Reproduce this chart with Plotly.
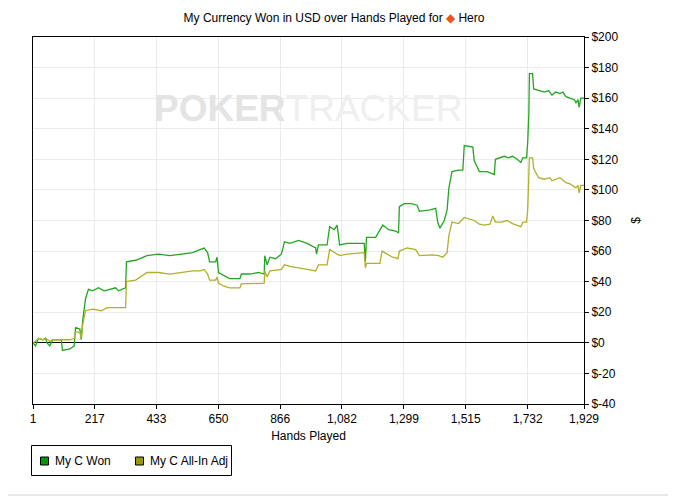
import plotly.graph_objects as go

# hands and cumulative $ for the two series
won_hands = [1, 10, 20, 35, 45, 50, 60, 70, 100, 104, 130, 145, 150, 165, 170, 175, 185, 195,
             210, 230, 250, 275, 290, 300, 325, 328, 360, 400, 440, 480, 520, 560, 585, 600,
             612, 619, 640, 645, 650, 670, 689, 725, 730, 760, 790, 810, 812, 820, 830, 850,
             870, 881, 900, 930, 960, 990, 993, 1000, 1030, 1039, 1055, 1065, 1074, 1100, 1160,
             1164, 1168, 1200, 1210, 1225, 1245, 1270, 1280, 1283, 1300, 1325, 1345, 1353, 1390,
             1410, 1417, 1425, 1440, 1450, 1456, 1467, 1490, 1505, 1510, 1530, 1540, 1545, 1563,
             1590, 1605, 1615, 1619, 1650, 1665, 1679, 1695, 1708, 1715, 1728, 1732, 1736, 1738,
             1749, 1753, 1770, 1790, 1805, 1817, 1830, 1845, 1855, 1866, 1880, 1895, 1901, 1908,
             1912, 1918, 1929]
won_usd = [0, -2, 3, 2, 3, 0, -2, 2, 2, -5, -4, -2, 10, 9, 2, 15, 29, 35,
           34, 36, 34, 35, 36, 34, 36, 53, 54, 57, 58, 57, 58, 59, 61, 62,
           59, 53, 53, 56, 46, 44, 42, 42, 45, 45, 46, 45, 57, 51, 56, 55,
           58, 66, 65, 67, 65, 62, 58, 64, 64, 76, 74, 77, 64, 65, 65,
           53, 69, 69, 72, 77, 74, 73, 72, 89, 91, 91, 90, 86, 87,
           88, 79, 75, 80, 87, 101, 112, 113, 113, 129, 128, 128, 119, 112,
           112, 111, 110, 120, 122, 121, 122, 120, 118, 121, 121, 131, 150, 176,
           176, 166, 165, 164, 165, 162, 164, 163, 164, 161, 160, 159, 157, 159,
           154, 160, 160]

adj_hands = [1, 10, 20, 35, 45, 60, 70, 100, 130, 145, 150, 165, 170, 175, 185, 210, 240,
             260, 300, 325, 328, 360, 400, 440, 480, 520, 560, 585, 600, 612, 619, 640, 645,
             650, 670, 689, 725, 730, 810, 812, 820, 830, 870, 881, 900, 960, 990, 1000, 1030,
             1039, 1074, 1100, 1160, 1164, 1168, 1215, 1222, 1240, 1260, 1278, 1283, 1310, 1340,
             1353, 1400, 1420, 1435, 1450, 1456, 1467, 1490, 1510, 1525, 1545, 1563, 1580, 1600,
             1610, 1619, 1640, 1660, 1679, 1708, 1715, 1728, 1732, 1738, 1749, 1753, 1770, 1790,
             1810, 1817, 1830, 1845, 1866, 1880, 1895, 1901, 1908, 1912, 1918, 1929]
adj_usd = [0, 1, 3, 2, 3, 1, 2, 2, 2, 3, 7, 7, 3, 12, 21, 22, 21,
           23, 23, 23, 40, 41, 46, 46, 45, 46, 47, 47, 48, 45, 41, 41, 43,
           39, 37, 36, 36, 38.5, 39, 47, 43, 47, 48, 51, 50, 48, 47, 51, 51,
           61, 57, 58, 59, 49, 52, 52, 60, 58, 56, 55, 60, 62, 61,
           57, 57.5, 57, 56, 59, 70, 79, 78, 82, 81, 80, 77.6, 77, 77.6,
           83, 79, 79, 80, 78, 76, 79, 79, 87, 121, 121, 114, 108, 107,
           108, 106, 107, 108, 104.7, 104, 102, 101.5, 103, 98, 103, 103]

hand_ticks = [1, 217, 433, 650, 866, 1082, 1299, 1515, 1732, 1929]
usd_ticks = [-40, -20, 0, 20, 40, 60, 80, 100, 120, 140, 160, 180, 200]
usd_labels = ['$' + str(v) for v in usd_ticks]

series_names = ['My C Won', 'My C All-In Adj']
line_colors = ['#22a622', '#b0b02a']
swatch_colors = ['#009900', '#999900']

font = 'Arial, Liberation Sans, sans-serif'

# page body has an 8px margin, so the figure is a bit smaller than the window
W, H = 685, 489
ML, MR, MT, MB = 25, 109, 29, 93
PW, PH = W - ML - MR, H - MT - MB


def px(p):
    # window pixel -> paper x
    return (p - 8 - ML) / PW


def py(p):
    # window pixel -> paper y
    return (H - MB - (p - 8)) / PH


fig = go.Figure()
fig.add_trace(go.Scatter(x=won_hands, y=won_usd, mode='lines', name=series_names[0],
                         line=dict(color=line_colors[0], width=1.3)))
fig.add_trace(go.Scatter(x=adj_hands, y=adj_usd, mode='lines', name=series_names[1],
                         line=dict(color=line_colors[1], width=1.3)))

fig.update_layout(
    width=W, height=H,
    margin=dict(l=ML, r=MR, t=MT, b=MB),
    paper_bgcolor='white', plot_bgcolor='white',
    font=dict(family=font, size=12, color='black'),
    showlegend=False,
    title=dict(text="My Currency Won in USD over Hands Played for <span style='color:#e8561c'>◆</span> Hero",
               x=(334 - 8) / W, xref='container', xanchor='center',
               y=1 - 10 / H, yref='container', yanchor='middle',
               font=dict(family=font, size=12, color='black')),
    xaxis=dict(range=[1, 1929], tickvals=hand_ticks, tickformat=',',
               showgrid=True, gridcolor='#ebebeb', showline=True, linecolor='black',
               linewidth=1, mirror=True, ticks='outside', ticklen=4, tickcolor='black',
               zeroline=False,
               title=dict(text='Hands Played', standoff=6, font=dict(family=font, size=12))),
    yaxis=dict(range=[-40, 200], side='right', tickvals=usd_ticks, ticktext=usd_labels,
               showgrid=True, gridcolor='#ebebeb', showline=True, linecolor='black',
               linewidth=1, mirror=True, ticks='outside', ticklen=4, tickcolor='black',
               zeroline=True, zerolinecolor='black', zerolinewidth=1,
               title=dict(text='$', standoff=14, font=dict(family=font, size=12))),
)

# faint watermark
fig.add_annotation(text="<b><span style='color:#e4e4e4'>POKER</span></b><span style='color:#efefef'>TRACKER</span>",
                   x=0.499, y=0.866, xref='paper', yref='paper', showarrow=False,
                   font=dict(family=font, size=37))

# legend box drawn by hand (square swatches, tight spacing)
fig.add_shape(type='rect', xref='paper', yref='paper', x0=px(31.5), x1=px(231.5),
              y0=py(475.5), y1=py(445.5), line=dict(color='black', width=1),
              fillcolor='white')
swatch_x = [40, 135]
text_x = [53, 147.5]
for i in range(2):
    fig.add_shape(type='rect', xref='paper', yref='paper',
                  x0=px(swatch_x[i] + 0.5), x1=px(swatch_x[i] + 8.5),
                  y0=py(465), y1=py(457), line=dict(color='black', width=1),
                  fillcolor=swatch_colors[i])
    fig.add_annotation(text=series_names[i], x=px(text_x[i]), y=py(461), xref='paper',
                       yref='paper', xanchor='left', yanchor='middle', showarrow=False,
                       font=dict(family=font, size=12, color='black'))

# thin grey rule at the bottom of the page
fig.add_shape(type='line', xref='paper', yref='paper', x0=px(8), x1=px(668),
              y0=py(495), y1=py(495), line=dict(color='#e0e0e0', width=1.5))

fig.write_html('out.html')
